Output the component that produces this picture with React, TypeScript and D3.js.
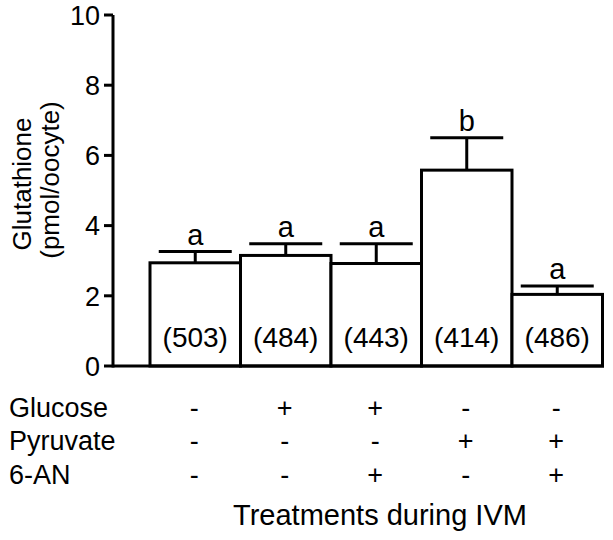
import React from "react";
import * as d3 from "d3";

const categories = ["G0P0A0", "G1P0A0", "G1P0A1", "G0P1A0", "G0P1A1"];
const means = [2.94, 3.15, 2.92, 5.58, 2.04];
const errTops = [3.26, 3.48, 3.48, 6.5, 2.28];
const letters = ["a", "a", "a", "b", "a"];
const counts = ["(503)", "(484)", "(443)", "(414)", "(486)"];
const yTicks = [0, 2, 4, 6, 8, 10];
const rowLabels = ["Glucose", "Pyruvate", "6-AN"];
const glucose = ["-", "+", "+", "-", "-"];
const pyruvate = ["-", "-", "-", "+", "+"];
const sixAN = ["-", "-", "+", "-", "+"];
const xTitle = "Treatments during IVM";
const yTitle1 = "Glutathione";
const yTitle2 = "(pmol/oocyte)";

const W = 613;
const H = 540;
const FONT = "'Liberation Sans', Arial, Helvetica, sans-serif";

export default function App() {
  const y = d3.scaleLinear().domain([0, 10]).range([366, 15]);
  const x = d3.scaleBand().domain(categories).range([150, 602.5]).paddingInner(0).paddingOuter(0);
  const axisX = 113;
  const bw = x.bandwidth();
  const capW = 73;
  const sw = 3;
  const rows = [glucose, pyruvate, sixAN];
  const rowY = [417, 450, 484];

  return (
    <div style={{ position: "absolute", left: 0, top: 0 }}>
      <svg width={W} height={H} style={{ display: "block", background: "#fff", fontFamily: FONT }}>
        {categories.map((c, i) => (
          <rect
            key={"b" + c}
            x={x(c)!}
            y={y(means[i])}
            width={bw}
            height={y(0) - y(means[i])}
            fill="#fff"
            stroke="#000"
            strokeWidth={sw}
          />
        ))}
        {categories.map((c, i) => {
          const cx = x(c)! + bw / 2;
          return (
            <g key={"e" + c} stroke="#000" strokeWidth={sw}>
              <line x1={cx} x2={cx} y1={y(means[i])} y2={y(errTops[i])} />
              <line x1={cx - capW / 2} x2={cx + capW / 2} y1={y(errTops[i])} y2={y(errTops[i])} />
            </g>
          );
        })}
        {categories.map((c, i) => (
          <text key={"l" + c} x={x(c)! + bw / 2} y={y(errTops[i]) - 7} textAnchor="middle" style={{ fontSize: 29 }}>
            {letters[i]}
          </text>
        ))}
        {categories.map((c, i) => (
          <text key={"n" + c} x={x(c)! + bw / 2} y={347} textAnchor="middle" style={{ fontSize: 28 }}>
            {counts[i]}
          </text>
        ))}
        <line x1={axisX} x2={axisX} y1={y(10)} y2={y(0) + sw / 2} stroke="#000" strokeWidth={sw} />
        <line x1={axisX} x2={602.5 + sw / 2} y1={y(0)} y2={y(0)} stroke="#000" strokeWidth={sw} />
        {yTicks.map((t) => (
          <g key={"t" + t}>
            <line x1={axisX - 9} x2={axisX} y1={y(t)} y2={y(t)} stroke="#000" strokeWidth={sw} />
            <text x={axisX - 13} y={y(t)} dy="0.36em" textAnchor="end" style={{ fontSize: 27 }}>
              {t}
            </text>
          </g>
        ))}
        <text transform="translate(31,184) rotate(-90)" textAnchor="middle" style={{ fontSize: 26 }}>
          {yTitle1}
        </text>
        <text transform="translate(59,180) rotate(-90)" textAnchor="middle" style={{ fontSize: 26 }}>
          {yTitle2}
        </text>
        {rowLabels.map((r, ri) => (
          <g key={"r" + r}>
            <text x={9} y={rowY[ri]} style={{ fontSize: 27 }}>
              {r}
            </text>
            {categories.map((c, i) => (
              <text key={c} x={x(c)! + bw / 2 - 1} y={rowY[ri]} textAnchor="middle" style={{ fontSize: 27 }}>
                {rows[ri][i]}
              </text>
            ))}
          </g>
        ))}
        <text x={380} y={525} textAnchor="middle" style={{ fontSize: 29 }}>
          {xTitle}
        </text>
      </svg>
    </div>
  );
}
